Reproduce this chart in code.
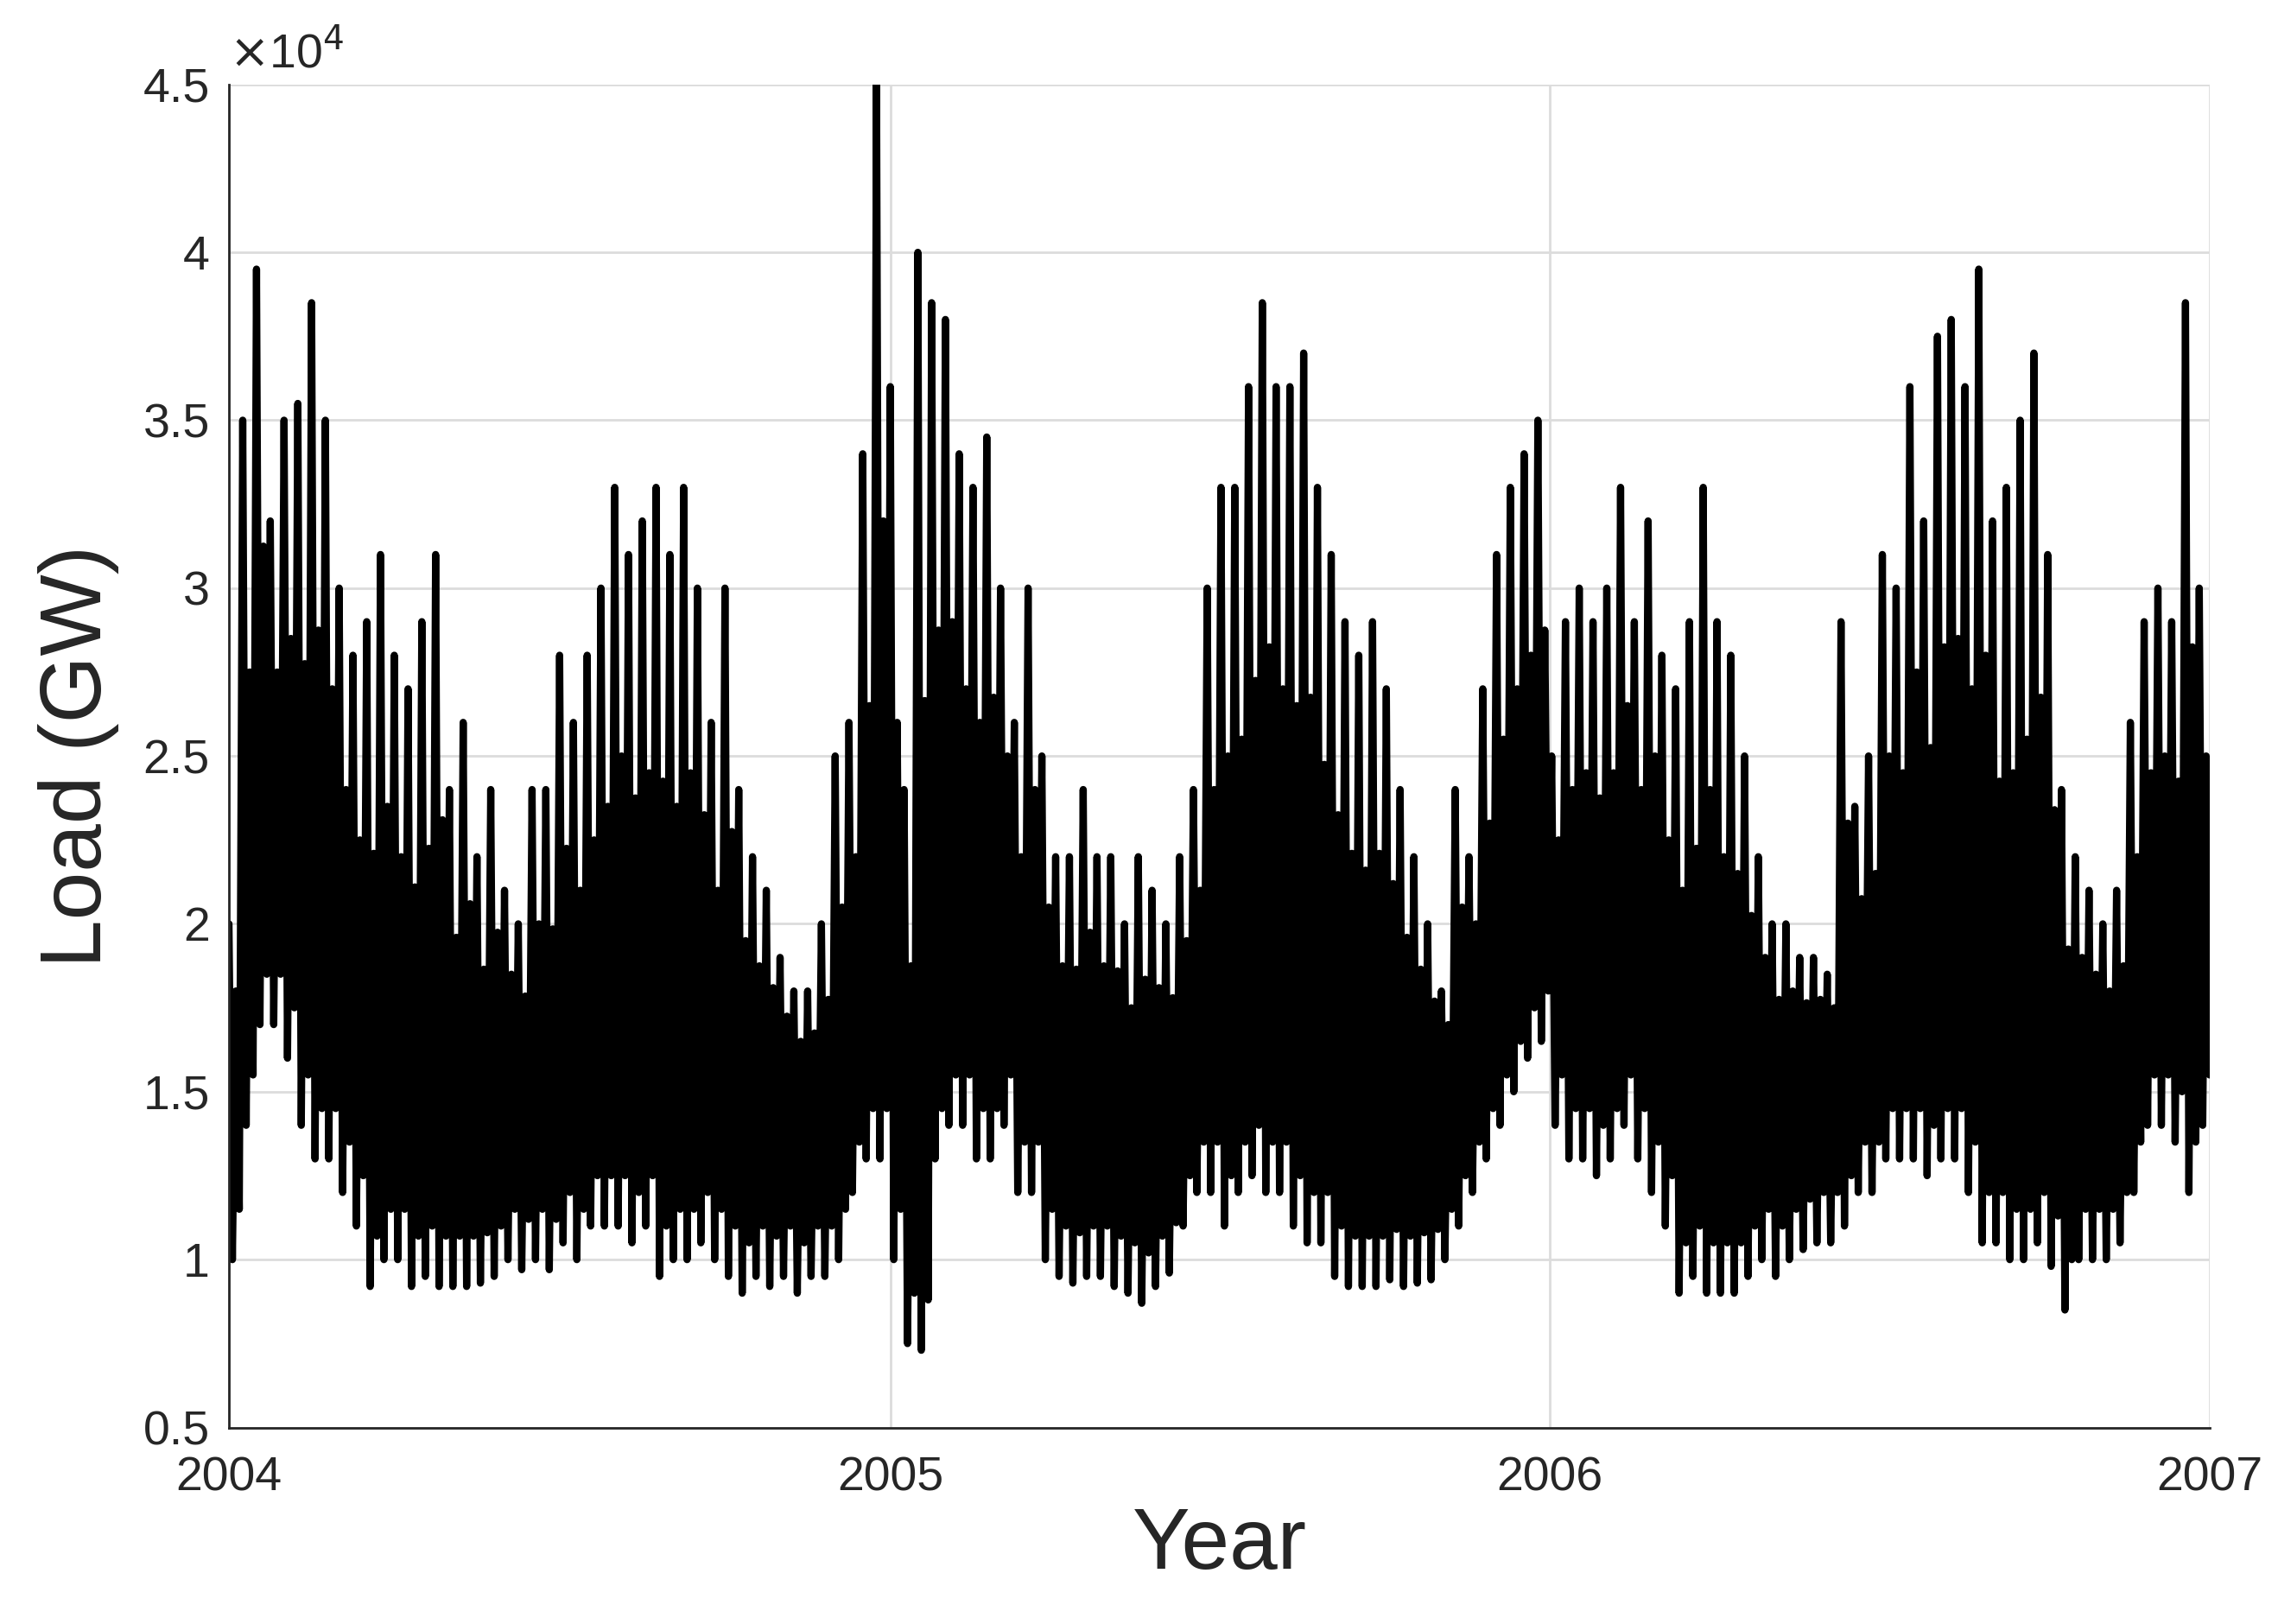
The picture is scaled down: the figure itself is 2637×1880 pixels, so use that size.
import numpy as np, pandas as pd, matplotlib
matplotlib.use("Agg")
import matplotlib.pyplot as plt, seaborn as sns

years = ["2004", "2005", "2006", "2007"]
highs_2004 = [20,35,39.5,32,35,35.5,38.5,35,30,28,29,31,28,27,29,31,24,26,22,24,21,20,24,24,28,26,28,30,33,31,32,33,31,33,30,26,30,24,22,21,19,18,18,20,25,26,34,45]
lows_2004 = [10,14,17,17,16,14,13,13,12,11,9.2,10,10,9.2,9.5,9.2,9.2,9.2,9.3,9.5,10,9.7,10,9.7,10.5,10,11,11,11,10.5,11,9.5,10,10,10.5,10,9.5,9,9.5,9.2,9.5,9,9.5,9.5,10,12,13,13]
highs_2005 = [36,24,40,38.5,38,34,33,34.5,30,26,30,25,22,22,24,22,22,20,22,21,20,22,24,30,33,33,36,38.5,36,36,37,33,31,29,28,29,27,24,22,20,18,24,22,27,31,33,34,35]
lows_2005 = [10,7.5,7.3,13,14,14,13,13,14,12,12,10,9.5,9.3,9.5,9.5,9.2,9,8.7,9.2,9.6,11,12,12,11,12,12.5,12,12,11,10.5,10.5,9.5,9.2,9.2,9.2,9.4,9.2,9.3,9.4,10,11,12,13,14,15,16,16.5]
highs_2006 = [25,29,30,29,30,33,29,32,28,27,29,33,29,28,25,22,20,20,19,19,18.5,29,23.5,25,31,30,36,32,37.5,38,36,39.5,32,33,35,37,31,24,22,21,20,21,26,29,30,29,38.5,30]
lows_2006 = [14,13,13,12.5,13,14,13,12,11,9,9.5,9,9,9,9.5,10,9.5,10,10.3,10.5,10.5,11,12,12,13,13,13,12.5,13,13,12,10.5,10.5,10,10,10.5,9.8,8.5,10,10,10,10.5,12,14,14,13.5,12,14]

highs = highs_2004 + highs_2005 + highs_2006
lows = lows_2004 + lows_2005 + lows_2006
load = []
for h, l in zip(highs, lows):
    load += [h * 1000, l * 1000, (h + l) * 500 + 3000, l * 1000 + 1500]
dates = pd.date_range("2004-01-01", "2006-12-31 23:00", periods=len(load))
df = pd.DataFrame({"date": dates, "load": load})

sns.set_theme(style="whitegrid")
plt.rcParams['font.family'] = ['Liberation Sans', 'DejaVu Sans']
fig = plt.figure(figsize=(26.37, 18.8), dpi=100)
ax = fig.add_axes([0.1005, 0.121, 0.8695, 0.827])
sns.lineplot(data=df, x="date", y="load", color="black", linewidth=6, ax=ax)
ax.set_xlim(pd.Timestamp("2004-01-01"), pd.Timestamp("2007-01-01"))
ax.set_ylim(5000, 45000)
ax.set_xticks([pd.Timestamp(y + "-01-01") for y in years])
ax.set_xticklabels(years)
yt = [5000 + 5000 * i for i in range(9)]
ax.set_yticks(yt)
ax.set_yticklabels([f"{v/1e4:g}" for v in yt])
ax.tick_params(labelsize=40, colors="#262626", direction="in", length=8, width=2)
ax.tick_params(axis="x", pad=24)
ax.tick_params(axis="y", pad=16)
ax.grid(color="#dcdcdc", linewidth=2)
for s in ["top", "right"]:
    ax.spines[s].set_visible(False)
for s in ["left", "bottom"]:
    ax.spines[s].set_color("#262626"); ax.spines[s].set_linewidth(2)
ax.set_xlabel("Year", fontsize=72, color="#262626", labelpad=4)
ax.set_ylabel("Load (GW)", fontsize=72, color="#262626", labelpad=20)
ax.text(0.0, 1.005, r"$\times$10$^4$", transform=ax.transAxes, fontsize=40, color="#262626", va="bottom", ha="left")
fig.savefig("out.png", dpi=100)
